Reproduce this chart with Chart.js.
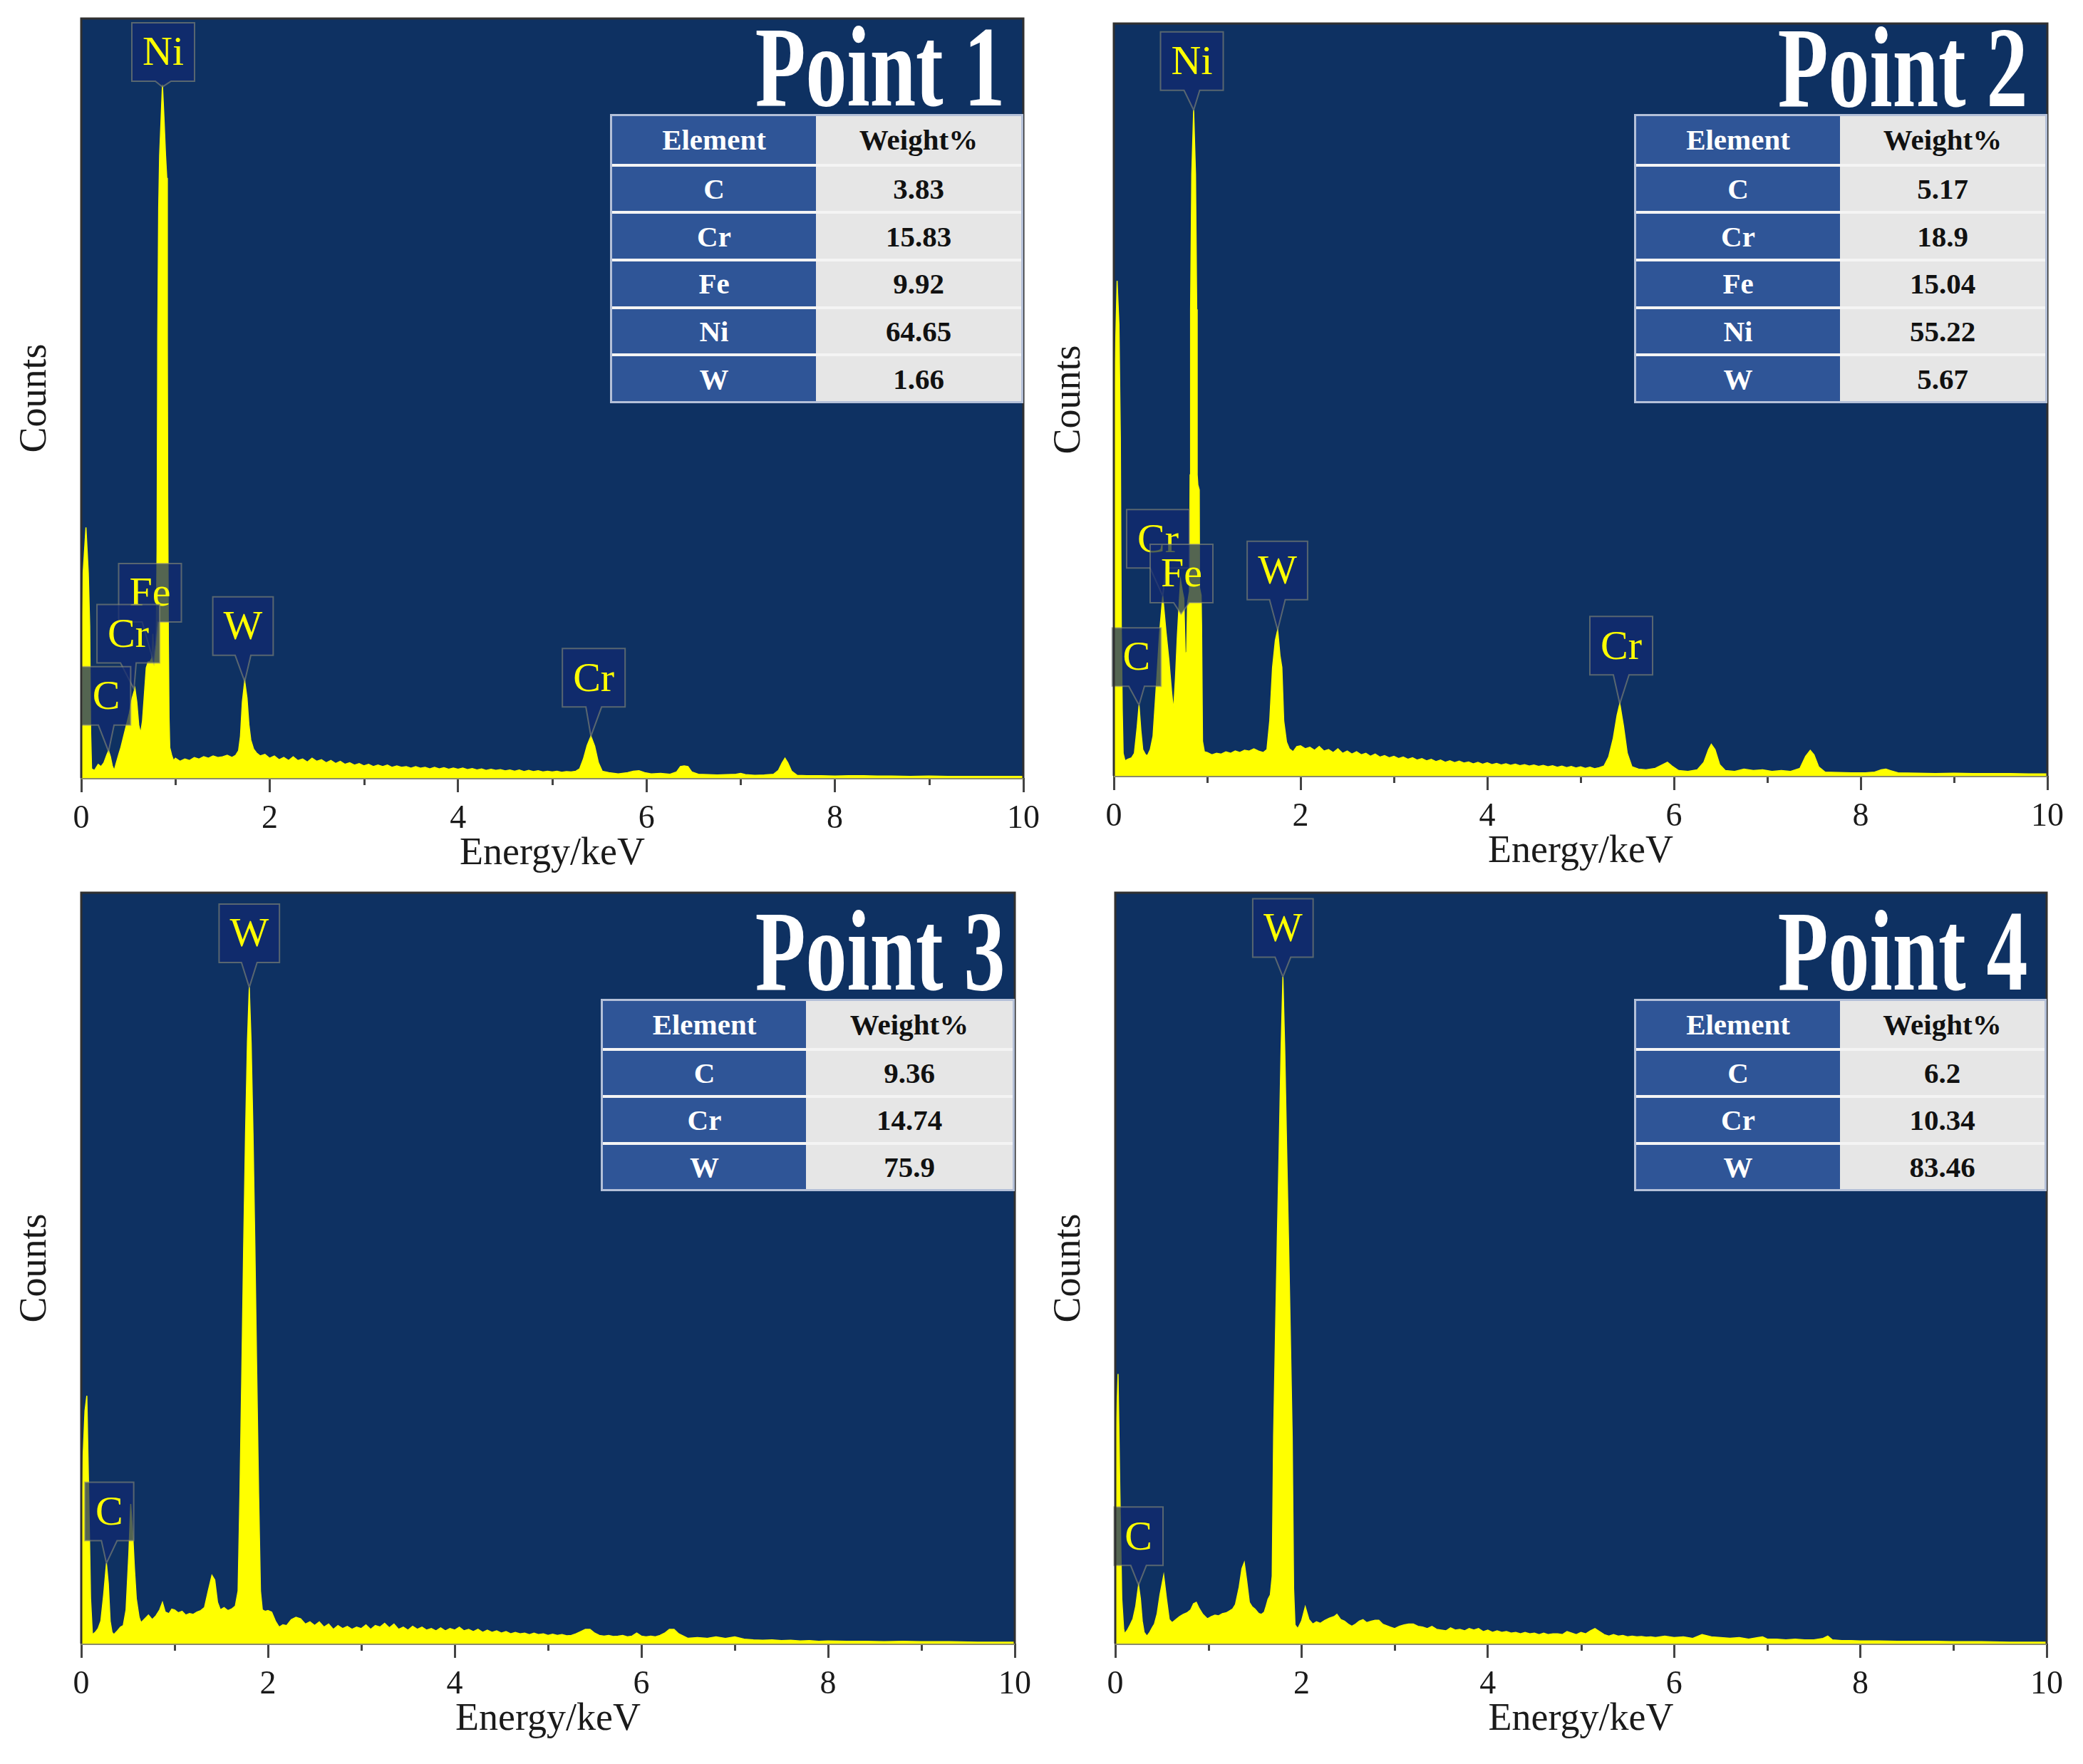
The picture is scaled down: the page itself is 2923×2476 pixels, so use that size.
<!DOCTYPE html>
<html>
<head>
<meta charset="utf-8">
<script src="https://cdn.jsdelivr.net/npm/chart.js"></script>
<style>
  html, body { margin:0; padding:0; background:#fff; }
  body { position:relative; width:2923px; height:2476px; overflow:hidden; }
  canvas { position:absolute; }
  .title { position:absolute; font-family:"Liberation Serif","Times New Roman",serif; font-weight:bold;
           font-size:162px; line-height:162px; color:#fff; white-space:nowrap;
           transform:scaleX(0.715); transform-origin:100% 50%; }
  .tbl { position:absolute; box-sizing:border-box; border:3px solid #b4c0d8; background:#fff;
         font-family:"Liberation Serif","Times New Roman",serif; font-weight:bold; font-size:41px; }
  .tr { display:flex; box-sizing:border-box; }
  .tr + .tr { border-top:4px solid #f4f4f4; }
  .tl, .tv { display:flex; align-items:center; justify-content:center; box-sizing:border-box; }
  .tl { background:#2f5597; color:#fff; }
  .tv { background:#e6e6e6; color:#111; }
</style>
</head>
<body>
<canvas id="c1"></canvas>
<canvas id="c2"></canvas>
<canvas id="c3"></canvas>
<canvas id="c4"></canvas>
<script>
// ---------------- DATA ----------------
const p1Energy = [0,0.02,0.05,0.075,0.09,0.10,0.11,0.14,0.18,0.21,0.24,0.27,0.29,0.31,0.33,0.35,0.37,0.40,0.42,0.45,0.48,0.51,0.54,0.57,0.59,0.61,0.63,0.65,0.67,0.69,0.71,0.73,0.75,0.76,0.775,0.795,0.805,0.812,0.822,0.832,0.845,0.862,0.878,0.895,0.908,0.914,0.918,0.925,0.932,0.94,0.96,0.98,1.00,1.05,1.10,1.15,1.20,1.25,1.30,1.35,1.40,1.45,1.50,1.55,1.60,1.64,1.67,1.69,1.71,1.735,1.76,1.78,1.80,1.83,1.86,1.90,1.95,2.00,
2.05,2.10,2.15,2.20,2.25,2.30,2.35,2.40,2.45,2.50,2.55,2.60,2.65,2.70,2.75,2.80,2.85,2.90,2.95,3.00,3.05,3.10,3.15,3.20,3.25,3.30,3.35,3.40,3.45,3.50,3.55,3.60,3.65,3.70,3.75,3.80,3.85,3.90,3.95,4.00,4.05,4.10,4.15,4.20,4.25,4.30,4.35,4.40,4.45,4.50,4.55,4.60,4.65,4.70,4.75,4.80,4.85,4.90,4.95,5.00,5.05,5.10,5.15,5.20,5.25,
5.29,5.33,5.37,5.41,5.45,5.49,5.53,5.60,5.70,5.80,5.86,5.92,5.98,6.05,6.15,6.25,6.32,6.36,6.40,6.44,6.48,6.55,6.65,6.75,6.85,6.95,7.00,7.05,7.15,7.25,7.35,7.40,7.44,7.47,7.50,7.54,7.60,7.70,7.85,8.00,8.15,8.30,8.45,8.60,8.80,9.00,9.20,9.40,9.60,9.80,10.00];
const p1Counts = [10,27,33,27,20,6,1.2,1.0,1.8,1.5,2.0,3.0,3.6,2.8,1.6,1.0,1.9,3.2,4.0,5.5,7.0,8.5,10.5,11.8,10.0,7.0,5.9,7.5,11.0,14.5,15.3,15.3,15.8,19.0,16.0,17.5,30,58,75,82,86,91.3,87,82,79,58,37,18,8,4,3.0,2.3,2.6,2.2,2.5,2.3,2.7,2.5,2.8,2.6,2.9,2.7,2.8,3.0,2.7,3.0,3.6,5.5,10.0,12.8,10.5,7.0,5.0,3.8,3.3,2.9,3.1,2.6,
2.9,2.4,2.7,2.3,2.8,2.3,2.5,2.1,2.6,2.2,2.4,2.0,2.3,1.9,2.2,1.8,2.0,1.7,1.9,1.6,1.8,1.5,1.7,1.5,1.7,1.4,1.6,1.4,1.5,1.3,1.5,1.3,1.4,1.2,1.4,1.2,1.35,1.15,1.3,1.15,1.3,1.1,1.25,1.05,1.2,1.0,1.15,1.0,1.1,0.95,1.05,0.9,1.05,0.85,1.0,0.85,0.95,0.8,0.9,0.8,0.9,0.75,0.85,0.8,0.9,
1.2,2.5,4.3,5.5,4.2,2.0,0.9,0.7,0.55,0.7,0.9,0.95,0.7,0.55,0.6,0.5,0.8,1.5,1.6,1.5,0.8,0.5,0.45,0.4,0.45,0.5,0.6,0.45,0.35,0.4,0.5,1.0,2.0,2.6,2.0,0.9,0.35,0.3,0.3,0.25,0.3,0.3,0.25,0.25,0.2,0.25,0.2,0.2,0.2,0.2,0.2];

const p2Energy = [0,0.015,0.035,0.055,0.07,0.08,0.09,0.10,0.12,0.15,0.19,0.22,0.25,0.27,0.29,0.31,0.34,0.36,0.39,0.42,0.46,0.49,0.524,0.56,0.59,0.62,0.64,0.66,0.68,0.70,0.715,0.735,0.75,0.765,0.78,0.79,0.81,0.817,0.822,0.835,0.855,0.875,0.888,0.893,0.90,0.915,0.918,0.935,0.94,0.95,0.97,1.00,1.05,1.10,1.15,1.20,1.25,1.30,1.35,1.40,1.45,1.50,1.55,1.60,1.64,1.67,1.70,1.73,1.755,1.78,1.80,1.82,1.85,1.88,1.92,1.96,2.00,
2.05,2.10,2.15,2.20,2.25,2.30,2.35,2.40,2.45,2.50,2.55,2.60,2.65,2.70,2.75,2.80,2.85,2.90,2.95,3.00,3.05,3.10,3.15,3.20,3.25,3.30,3.35,3.40,3.45,3.50,3.55,3.60,3.65,3.70,3.75,3.80,3.85,3.90,3.95,4.00,4.05,4.10,4.15,4.20,4.25,4.30,4.35,4.40,4.45,4.50,4.55,4.60,4.65,4.70,4.75,4.80,4.85,4.90,4.95,5.00,5.05,5.10,5.15,5.20,5.25,
5.30,5.35,5.39,5.42,5.46,5.50,5.55,5.62,5.70,5.80,5.88,5.93,5.98,6.05,6.15,6.25,6.32,6.37,6.40,6.44,6.49,6.55,6.65,6.75,6.85,6.95,7.05,7.15,7.25,7.35,7.41,7.46,7.50,7.55,7.62,7.75,7.90,8.05,8.15,8.22,8.27,8.32,8.40,8.60,8.80,9.00,9.20,9.40,9.60,9.80,10.00];
const p2Counts = [25,55,65.8,60,45,20,9,3,2.0,2.2,2.4,3.0,6.5,9.4,6.0,3.5,2.8,2.7,3.5,5.3,12.9,19,23.9,19,15.4,11,8.7,13,18.5,23,26,24.5,23.6,16,16.5,23,24.5,40,62,80,88.5,80,62,40,38.7,38,25,24,20,4.6,3.2,3.1,2.8,3.0,2.9,3.2,3.0,3.3,3.1,3.4,3.3,3.6,3.3,3.1,3.5,7.3,14.4,18,19.4,16,14.4,7.3,4.5,3.6,3.2,3.9,4.0,
3.6,3.8,3.4,3.9,3.3,3.5,3.1,3.6,3.0,3.3,2.9,3.2,2.8,3.0,2.6,2.9,2.5,2.7,2.4,2.6,2.3,2.5,2.2,2.4,2.1,2.3,2.0,2.2,1.9,2.1,1.8,2.0,1.75,1.95,1.7,1.85,1.6,1.8,1.55,1.75,1.5,1.65,1.45,1.6,1.4,1.55,1.35,1.5,1.3,1.45,1.25,1.4,1.2,1.35,1.15,1.3,1.1,1.25,1.05,1.2,1.0,1.15,0.95,1.1,1.3,
2.5,5.0,8.0,9.6,6.6,3.0,1.2,0.9,0.8,1.0,1.5,1.8,1.3,0.7,0.6,0.8,1.8,3.5,4.2,3.5,1.5,0.7,0.6,0.9,0.7,0.8,0.6,0.7,0.6,1.0,2.6,3.4,2.8,1.2,0.5,0.45,0.4,0.4,0.5,0.8,0.9,0.7,0.4,0.35,0.3,0.35,0.3,0.3,0.3,0.25,0.25];

const p3Energy = [0,0.02,0.04,0.06,0.08,0.10,0.12,0.15,0.18,0.21,0.24,0.27,0.29,0.31,0.33,0.35,0.38,0.42,0.45,0.48,0.51,0.53,0.55,0.57,0.59,0.62,0.64,0.68,0.72,0.76,0.80,0.84,0.87,0.90,0.94,0.97,1.00,1.04,1.08,1.12,1.16,1.20,1.24,1.28,1.32,1.36,1.40,1.43,1.46,1.49,1.53,1.57,1.61,1.65,1.68,1.70,1.72,1.74,1.76,1.78,1.80,1.82,1.84,1.86,1.88,1.90,1.92,1.94,1.97,2.00,2.04,2.08,2.12,2.16,2.20,2.25,2.30,2.35,2.40,2.45,
2.50,2.55,2.60,2.65,2.70,2.75,2.80,2.85,2.90,2.95,3.00,3.05,3.10,3.15,3.20,3.25,3.30,3.35,3.40,3.45,3.50,3.55,3.60,3.65,3.70,3.75,3.80,3.85,3.90,3.95,4.00,4.05,4.10,4.15,4.20,4.25,4.30,4.35,4.40,4.45,4.50,4.55,4.60,4.65,4.70,4.75,4.80,4.85,4.90,4.95,5.00,5.05,5.10,5.15,5.20,5.25,5.30,5.35,5.40,5.45,5.50,5.55,5.60,5.65,5.70,5.75,5.80,5.85,5.90,5.95,6.00,6.05,6.10,6.15,6.20,6.25,6.30,6.35,6.40,6.45,6.50,6.60,6.70,6.80,6.90,7.00,7.10,7.20,7.30,7.40,7.50,7.60,7.70,7.80,7.90,8.00,8.20,8.40,8.60,8.80,9.00,9.30,9.60,10.00];
const p3Counts = [10,25,31,33,20,6,1.2,1.5,2.0,3.0,6.5,10.7,8.0,3.0,1.5,1.2,1.6,2.2,2.4,4.5,12,18.6,15,10,6,3.5,2.8,3.3,3.8,3.2,3.7,4.5,5.5,4.2,4.0,4.6,4.5,4.1,4.3,3.8,4.0,3.9,4.2,4.4,4.8,7.0,9.1,8.5,5.5,4.5,4.8,4.4,4.6,5.0,7,20,36,53,68,80,87.4,80,68,53,36,20,7,4.5,4.3,4.4,4.2,3.0,2.2,2.5,2.4,3.2,3.5,3.3,2.6,2.9,
2.4,2.9,2.2,2.6,1.9,2.4,2.0,2.3,1.9,2.2,2.0,2.5,1.9,2.4,2.2,2.7,2.1,2.6,1.9,2.2,1.8,2.3,1.9,2.2,1.8,2.0,1.7,2.1,1.7,2.0,1.8,2.2,1.7,1.9,1.6,1.9,1.5,1.8,1.5,1.7,1.4,1.6,1.3,1.5,1.3,1.4,1.2,1.4,1.2,1.3,1.1,1.25,1.1,1.2,1.05,1.1,1.3,1.6,1.9,1.9,1.4,1.1,1.0,1.1,0.95,1.0,1.1,0.9,1.0,1.4,1.0,0.9,1.0,0.9,1.1,1.4,1.9,1.9,1.3,1.0,0.7,0.8,0.7,0.9,0.7,0.9,0.6,0.5,0.45,0.5,0.4,0.45,0.35,0.4,0.3,0.35,0.3,0.3,0.25,0.3,0.25,0.25,0.2,0.2];

const p4Energy = [0,0.015,0.03,0.05,0.07,0.09,0.10,0.13,0.16,0.19,0.22,0.25,0.27,0.29,0.31,0.34,0.37,0.40,0.42,0.45,0.48,0.52,0.55,0.58,0.61,0.65,0.69,0.73,0.77,0.81,0.84,0.87,0.90,0.94,0.99,1.03,1.07,1.11,1.15,1.19,1.22,1.26,1.29,1.33,1.36,1.385,1.41,1.44,1.47,1.50,1.54,1.57,1.60,1.62,1.64,1.665,1.685,1.70,1.72,1.74,1.76,1.78,1.80,1.82,1.84,1.86,1.88,1.90,1.915,1.93,1.96,2.00,2.04,2.08,2.12,2.16,2.20,2.25,2.30,2.35,2.38,2.42,2.46,2.50,2.54,2.58,2.62,2.66,2.70,2.75,2.79,2.83,2.87,2.91,2.95,3.00,
3.05,3.10,3.15,3.20,3.25,3.30,3.35,3.40,3.45,3.50,3.55,3.60,3.65,3.70,3.75,3.80,3.85,3.90,3.95,4.00,4.05,4.10,4.15,4.20,4.25,4.30,4.35,4.40,4.45,4.50,4.55,4.60,4.65,4.70,4.75,4.80,4.85,4.90,4.95,5.00,5.05,5.10,5.15,5.20,5.25,5.30,5.35,5.40,5.45,5.50,5.55,5.60,5.65,5.70,5.75,5.80,5.90,6.00,6.10,6.20,6.30,6.40,6.50,6.60,6.70,6.80,6.90,6.95,7.00,7.10,7.20,7.30,7.40,7.50,7.60,7.65,7.70,7.80,7.90,8.00,8.20,8.40,8.60,8.80,9.00,9.30,9.60,10.00];
const p4Counts = [12,30,35.9,20,6,2,1.3,1.8,2.5,3.3,5.0,7.8,6,3,1.5,1.0,1.5,2.2,2.6,4,6.5,9.1,6,3.2,2.8,3.2,3.6,3.9,4.1,4.5,5.3,5.5,4.7,3.9,3.3,3.6,3.8,3.7,4.0,4.1,4.3,4.6,5.2,7.5,10,10.8,8.5,5.5,4.9,4.6,4.0,3.9,4.2,5.0,5.9,6.5,9,27.5,41,54,66,79,88.8,79,66,54,41,27.5,7.3,2.5,2.0,3.0,4.9,3.2,2.6,2.9,2.7,3.1,3.4,3.6,3.9,3.2,3.0,2.6,2.3,2.6,3.0,3.2,2.8,3.0,3.1,3.1,2.6,2.4,2.2,2.0,
2.3,2.5,2.6,2.6,2.3,2.2,2.0,2.3,1.9,1.8,1.7,2.1,1.8,1.9,1.7,2.0,1.8,2.0,1.6,1.8,1.5,1.7,1.5,1.6,1.4,1.5,1.3,1.5,1.3,1.4,1.2,1.4,1.2,1.3,1.3,1.2,1.6,1.4,1.2,1.5,1.3,1.7,2.0,1.6,1.2,1.0,1.2,1.0,1.1,0.9,1.0,0.9,0.95,0.85,0.9,0.8,1.0,0.8,0.9,0.7,1.2,0.9,0.8,0.7,0.8,0.6,0.8,0.9,0.6,0.6,0.5,0.6,0.5,0.5,0.7,1.0,0.5,0.4,0.4,0.35,0.35,0.3,0.3,0.3,0.25,0.25,0.2,0.2];

const xTickValues = [0, 2, 4, 6, 8, 10];
const xMinorTicks = [1, 3, 5, 7, 9];

const p1Elements = ['C','Cr','Fe','Ni','W'];
const p1Weights  = [3.83, 15.83, 9.92, 64.65, 1.66];
const p2Elements = ['C','Cr','Fe','Ni','W'];
const p2Weights  = [5.17, 18.9, 15.04, 55.22, 5.67];
const p3Elements = ['C','Cr','W'];
const p3Weights  = [9.36, 14.74, 75.9];
const p4Elements = ['C','Cr','W'];
const p4Weights  = [6.2, 10.34, 83.46];

const panelTitles = ['Point 1','Point 2','Point 3','Point 4'];

// peak callouts (energy keV / counts % of axis)
const p1Callouts = [
  {text:'Ni', tipE:0.862, tipY:91, boxE:0.87, boxY:95.6},
  {text:'Fe', tipE:0.77, tipY:15.2, boxE:0.73, boxY:24.4},
  {text:'Cr', tipE:0.56, tipY:11.7, boxE:0.50, boxY:19.0},
  {text:'C',  tipE:0.29, tipY:3.5,  boxE:0.265, boxY:10.8},
  {text:'W',  tipE:1.735, tipY:12.7, boxE:1.717, boxY:20.0},
  {text:'Cr', tipE:5.41, tipY:5.5,  boxE:5.44, boxY:13.2}
];
const p2Callouts = [
  {text:'Ni', tipE:0.855, tipY:88.5, boxE:0.836, boxY:95.0},
  {text:'Cr', tipE:0.524, tipY:23.9, boxE:0.473, boxY:31.5},
  {text:'Fe', tipE:0.72, tipY:21.5, boxE:0.725, boxY:26.9},
  {text:'C',  tipE:0.27, tipY:9.4, boxE:0.244, boxY:15.8},
  {text:'W',  tipE:1.755, tipY:19.4, boxE:1.752, boxY:27.3},
  {text:'Cr', tipE:5.42, tipY:9.6, boxE:5.435, boxY:17.3}
];
const p3Callouts = [
  {text:'W', tipE:1.80, tipY:87.4, boxE:1.80, boxY:94.6},
  {text:'C', tipE:0.27, tipY:10.7, boxE:0.30, boxY:17.6}
];
const p4Callouts = [
  {text:'W', tipE:1.80, tipY:88.8, boxE:1.80, boxY:95.3},
  {text:'C', tipE:0.25, tipY:7.8, boxE:0.25, boxY:14.3}
];

// ---------------- LAYOUT ----------------
const FONT = '"Liberation Serif","Times New Roman",serif';
const XH = 139;
const panels = [
  {id:'c1', cx:0,    cy:0,    cw:1480, ch:1240, L:114,  T:26,   R:1436, B:1092, yTitleX:49.6,
   energy:p1Energy, counts:p1Counts, callouts:p1Callouts, elements:p1Elements, weights:p1Weights,
   tbl:{l:856, t:160, d:1145, r:1436, b:566}, title:{right:1411, base:149}},
  {id:'c2', cx:1460, cy:0,    cw:1463, ch:1240, L:1563, T:33,   R:2873, B:1089, yTitleX:1500.5,
   energy:p2Energy, counts:p2Counts, callouts:p2Callouts, elements:p2Elements, weights:p2Weights,
   tbl:{l:2293, t:160, d:2582, r:2873, b:566}, title:{right:2846, base:150}},
  {id:'c3', cx:0,    cy:1240, cw:1480, ch:1236, L:114,  T:1253, R:1424, B:2307, yTitleX:49.6,
   energy:p3Energy, counts:p3Counts, callouts:p3Callouts, elements:p3Elements, weights:p3Weights,
   tbl:{l:843, t:1402, d:1131, r:1424, b:1672}, title:{right:1411, base:1390}},
  {id:'c4', cx:1460, cy:1240, cw:1463, ch:1236, L:1565, T:1253, R:2872, B:2307, yTitleX:1500.5,
   energy:p4Energy, counts:p4Counts, callouts:p4Callouts, elements:p4Elements, weights:p4Weights,
   tbl:{l:2293, t:1402, d:2582, r:2872, b:1672}, title:{right:2846, base:1390}}
];

// ---------------- PLUGIN ----------------
const edsPlugin = {
  id: 'eds',
  beforeDraw(chart, args, opts) {
    const {ctx, chartArea:a} = chart;
    ctx.save();
    ctx.fillStyle = '#0e3162';
    ctx.fillRect(a.left, a.top, a.right - a.left, a.bottom - a.top);
    ctx.restore();
  },
  afterDatasetsDraw(chart, args, opts) {
    const {ctx} = chart;
    const xs = chart.scales.x, ys = chart.scales.y;
    ctx.save();
    ctx.font = '58px ' + FONT;
    for (const l of opts.callouts) {
      const tx = xs.getPixelForValue(l.tipE), ty = ys.getPixelForValue(l.tipY);
      const bx = xs.getPixelForValue(l.boxE), by = ys.getPixelForValue(l.boxY);
      const w = ctx.measureText(l.text).width + 30, h = 82;
      const x0 = bx - w / 2, y0 = by - h / 2, y1 = by + h / 2;
      ctx.beginPath();
      ctx.moveTo(x0, y0); ctx.lineTo(x0 + w, y0); ctx.lineTo(x0 + w, y1);
      ctx.lineTo(bx + 11, y1); ctx.lineTo(tx, ty); ctx.lineTo(bx - 11, y1);
      ctx.lineTo(x0, y1); ctx.closePath();
      ctx.fillStyle = 'rgba(18,42,112,0.72)';
      ctx.fill();
      ctx.strokeStyle = 'rgba(150,150,120,0.55)';
      ctx.lineWidth = 2;
      ctx.stroke();
      ctx.fillStyle = '#ffff00';
      ctx.textAlign = 'center';
      ctx.textBaseline = 'middle';
      ctx.fillText(l.text, bx, by + 3);
    }
    ctx.restore();
  },
  afterDraw(chart, args, opts) {
    const {ctx, chartArea:a} = chart;
    const xs = chart.scales.x;
    ctx.save();
    ctx.strokeStyle = '#444';
    ctx.lineWidth = 3;
    for (const v of xMinorTicks) {
      const px = Math.round(xs.getPixelForValue(v)) + 0.5;
      ctx.beginPath(); ctx.moveTo(px, a.bottom); ctx.lineTo(px, a.bottom + 10); ctx.stroke();
    }
    ctx.strokeStyle = '#303030';
    ctx.lineWidth = 3;
    ctx.beginPath();
    ctx.moveTo(a.left, a.bottom); ctx.lineTo(a.left, a.top); ctx.lineTo(a.right, a.top); ctx.lineTo(a.right, a.bottom);
    ctx.stroke();
    ctx.strokeStyle = '#8c8c6a';
    ctx.lineWidth = 2;
    ctx.beginPath(); ctx.moveTo(a.left, a.bottom + 1); ctx.lineTo(a.right, a.bottom + 1); ctx.stroke();
    ctx.restore();
  }
};

// ---------------- BUILD ----------------
function buildTable(p) {
  const t = p.tbl;
  const div = document.createElement('div');
  div.className = 'tbl';
  div.style.left = t.l + 'px'; div.style.top = t.t + 'px';
  div.style.width = (t.r - t.l) + 'px'; div.style.height = (t.b - t.t) + 'px';
  const rows = [['Element', 'Weight%']].concat(p.elements.map((e, i) => [e, String(p.weights[i])]));
  const inner = (t.b - t.t - 6);
  const rh = inner / rows.length;
  rows.forEach((r, i) => {
    const row = document.createElement('div');
    row.className = 'tr';
    row.style.height = rh + 'px';
    const c1 = document.createElement('div'); c1.className = 'tl';
    c1.style.width = (t.d - t.l - 3) + 'px'; c1.textContent = r[0];
    const c2 = document.createElement('div'); c2.className = 'tv';
    c2.style.flex = '1'; c2.textContent = r[1];
    row.appendChild(c1); row.appendChild(c2);
    div.appendChild(row);
  });
  document.body.appendChild(div);
}

function buildTitle(p, text) {
  const d = document.createElement('div');
  d.className = 'title';
  d.textContent = text;
  d.style.right = (2923 - p.title.right) + 'px';
  d.style.top = (p.title.base - 135.7) + 'px';
  document.body.appendChild(d);
}

panels.forEach((p, idx) => {
  const canvas = document.getElementById(p.id);
  canvas.width = p.cw; canvas.height = p.ch;
  canvas.style.left = p.cx + 'px'; canvas.style.top = p.cy + 'px';
  canvas.style.width = p.cw + 'px'; canvas.style.height = p.ch + 'px';
  const pts = p.energy.map((e, i) => ({x: e, y: p.counts[i]}));
  new Chart(canvas, {
    type: 'line',
    data: { datasets: [{
      data: pts, fill: 'origin', backgroundColor: '#ffff00', borderColor: '#ffff00',
      borderWidth: 1.5, pointRadius: 0, tension: 0
    }]},
    options: {
      responsive: false, animation: false, devicePixelRatio: 1,
      events: [],
      layout: { padding: { left: 0, top: p.T - p.cy, right: p.cx + p.cw - p.R, bottom: p.cy + p.ch - p.B - XH } },
      plugins: { legend: {display:false}, tooltip: {enabled:false}, eds: { callouts: p.callouts } },
      scales: {
        x: {
          type: 'linear', min: 0, max: 10,
          afterBuildTicks(s) { s.ticks = xTickValues.map(v => ({value: v})); },
          ticks: { font: {family: FONT, size: 46}, color: '#1a1a1a', padding: 10, maxRotation: 0, autoSkip: false },
          grid: { display: true, drawOnChartArea: false, drawTicks: true, tickLength: 20, tickColor: '#444', tickWidth: 3 },
          border: { display: false },
          title: { display: true, text: 'Energy/keV', font: {family: FONT, size: 54}, color: '#1a1a1a', padding: 0 },
          afterFit(s) { s.height = XH; s.paddingLeft = 0; s.paddingRight = 0; }
        },
        y: {
          min: 0, max: 100,
          ticks: { display: false },
          grid: { display: false },
          border: { display: false },
          title: { display: true, text: 'Counts', font: {family: FONT, size: 54}, color: '#1a1a1a',
                   padding: { top: p.yTitleX - p.cx - 32.4, bottom: 0 } },
          afterFit(s) { s.width = p.L - p.cx; }
        }
      }
    },
    plugins: [edsPlugin]
  });
  buildTable(p);
  buildTitle(p, panelTitles[idx]);
});
</script>
</body>
</html>
